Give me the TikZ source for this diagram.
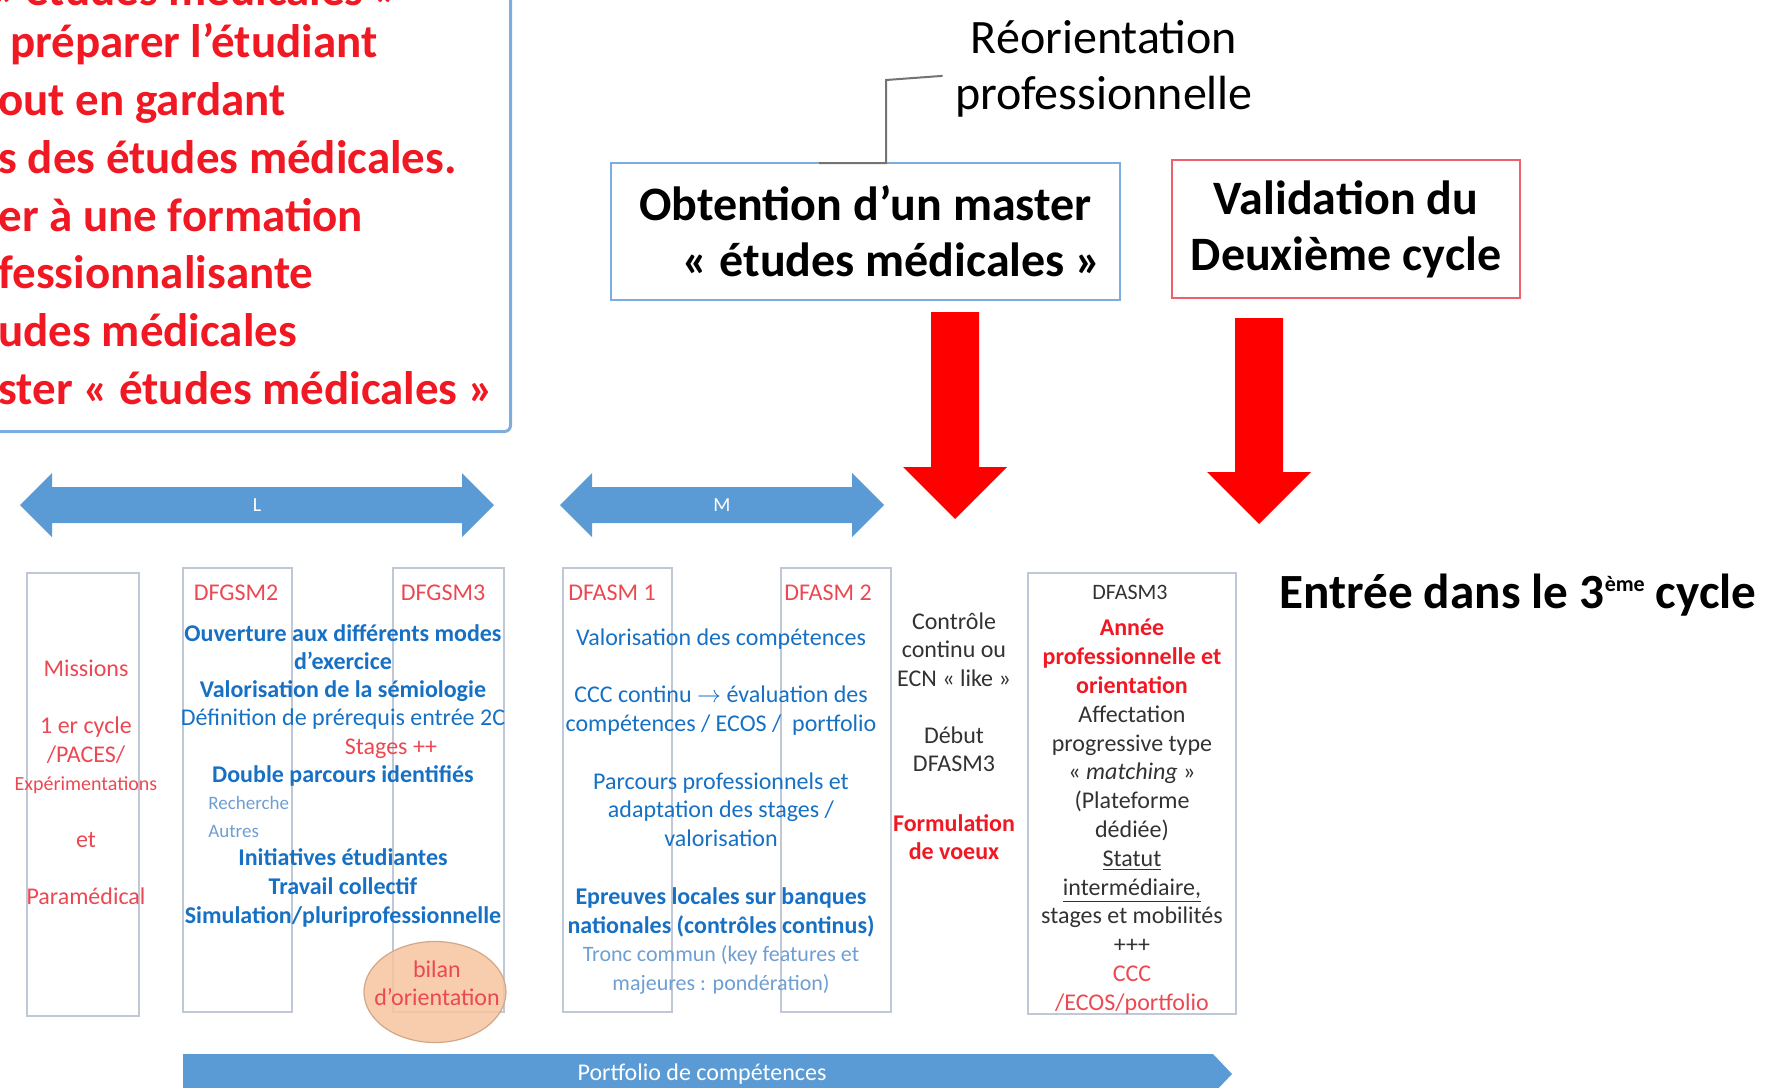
\documentclass[tikz,border=0pt]{standalone}
\usepackage{fontspec}
\setmainfont{Carlito}
\usetikzlibrary{shapes,arrows,positioning}

\definecolor{barblue}{RGB}{91,155,213}
\definecolor{txtblue}{RGB}{22,112,196}
\definecolor{paleblue}{RGB}{110,158,210}
\definecolor{txtred}{RGB}{240,24,34}
\definecolor{hdred}{RGB}{236,72,82}
\definecolor{edgeblue}{RGB}{125,172,222}
\definecolor{edgered}{RGB}{238,96,106}
\definecolor{colline}{RGB}{192,200,214}
\definecolor{peach}{RGB}{247,196,160}
\definecolor{darktxt}{RGB}{50,50,50}

\newcommand{\fsz}[2]{\fontsize{#1}{#2}\selectfont}

\begin{document}
\begin{tikzpicture}[x=0.5pt,y=-0.5pt]
  \tikzstyle{col} = [draw=colline,line width=1pt,rectangle,minimum height=222pt]
  \tikzstyle{bigtext} = [inner sep=0pt,font=\bfseries\fsz{24}{28}]
  \tikzstyle{coltext} = [inner sep=0pt,align=center,font=\fsz{12}{14.25}]
  \tikzstyle{colhead} = [inner sep=0pt,anchor=base,font=\fsz{12}{14},text=hdred]
  \tikzstyle{conn} = [draw=black!55,line width=1pt]
  \useasboundingbox (0,0) rectangle (1766,1087);

  \node (goal) [draw=edgeblue,line width=1.5pt,rounded corners=3pt,anchor=south east,
    minimum width=400pt,minimum height=300pt] at (512,433) {};
  \node (goalhead) [anchor=base east,inner sep=0pt,text=txtred,font=\bfseries\fsz{23.5}{29}]
    at (400,5) {« études médicales »};
  \node (goaltxt) [anchor=north west,align=left,inner sep=0pt,text=txtred,font=\bfseries\fsz{23.5}{28.9}]
    at (-2,23) {\hspace*{6pt}préparer l’étudiant\\out en gardant\\s des études médicales.\\
    er à une formation\\fessionnalisante\\udes médicales\\ster « études médicales »};

  \node (reo) [inner xsep=6pt,inner ysep=0pt,align=center,anchor=north,font=\fsz{24}{28}] at (1104,20)
    {Réorientation\\professionnelle};
  \node (master) [bigtext,draw=edgeblue,line width=1.2pt,minimum width=254.5pt,minimum height=68.5pt,
    align=right] at (865.5,231.5) {Obtention d’un master\\« études médicales »\hspace*{-5pt}};
  \node (valid) [bigtext,draw=edgered,line width=1.2pt,minimum width=174pt,minimum height=69pt,
    align=center] at (1346,229) {\raisebox{-1.5pt}{Validation du}\\\raisebox{-1.5pt}{Deuxième cycle}};
  \coordinate (knee) at (886,80);
  \coordinate (tick) at (819,163);
  \draw [conn] ([yshift=-3.5pt]reo.west) -- (knee) -- (knee |- tick) -- (tick);

  \fill [red] (931,312) -- (979,312) -- (979,467) -- (1007,467) -- (955,519) -- (903,467) -- (931,467) -- cycle;
  \fill [red] (1235,318) -- (1283,318) -- (1283,472) -- (1311,472) -- (1259,524) -- (1207,472) -- (1235,472) -- cycle;
  \node (third) [bigtext,font=\bfseries\fsz{24.6}{28},anchor=base west] at (1279,608)
    {Entrée dans le 3\raisebox{8.5pt}{\fsz{11}{11}ème} cycle};

  \fill [barblue] (20,505) -- (52,473) -- (52,487) -- (462,487) -- (462,473) -- (494,505)
    -- (462,537) -- (462,523) -- (52,523) -- (52,537) -- cycle;
  \fill [barblue] (560,505) -- (592,473) -- (592,487) -- (852,487) -- (852,473) -- (884,505)
    -- (852,537) -- (852,523) -- (592,523) -- (592,537) -- cycle;
  \node (lic) [text=white,font=\fsz{10}{12}] at (257,505) {L};
  \node (mas) [text=white,font=\fsz{10}{12}] at (722,505) {M};

  \node (c0) [col,minimum width=56pt,minimum height=221.5pt] at (83,794.5) {};
  \node (c1) [col,minimum width=54.5pt] at (237.5,790) {};
  \node (c2) [col,minimum width=55.5pt,right=49.5pt of c1] {};
  \node (c3) [col,minimum width=54.5pt,right=28.5pt of c2] {};
  \node (c4) [col,minimum width=55pt,right=53.5pt of c3] {};
  \node (c5) [col,minimum width=104pt,minimum height=220.5pt] at (1132,793.5) {};
  \node (bilan) [ellipse,fill=peach,fill opacity=0.85,draw=peach!85!black,line width=0.6pt,
    minimum width=71pt,minimum height=50.5pt] at (435,992) {};

  \node (mis) [coltext,anchor=north,text=hdred] at (86,660)
    {Missions\\[14.25pt]1 er cycle\\/PACES/\\{\fsz{10}{14.25}Expérimentations}\\[14.25pt]et\\[14.25pt]Paramédical};
  \node (h1) [colhead] at (236,600) {DFGSM2};
  \node (h2) [colhead] at (443,600) {DFGSM3};
  \node (h3) [colhead] at (612,600) {DFASM 1};
  \node (h4) [colhead] at (828,600) {DFASM 2};
  \node (h5) [colhead,text=darktxt,font=\fsz{11}{13}] at (1130,599) {DFASM3};

  \node (gsm) [coltext,anchor=north,text=txtblue,font=\fsz{12}{14.1}] at (343,624)
    {\textbf{Ouverture aux différents modes}\\\textbf{d’exercice}\\\textbf{Valorisation de la sémiologie}\\
     Définition de prérequis entrée 2C\\\hspace*{48pt}\textcolor{hdred}{Stages ++}\\\textbf{Double parcours identifiés}};
  \node (opt) [anchor=north west,inner sep=0pt,align=left,text=paleblue,font=\fsz{9.5}{14}] at (208,796)
    {Recherche\\Autres};
  \node (gsm2) [coltext,anchor=north,text=txtblue,font=\bfseries\fsz{12}{14.5}] at (343,848)
    {Initiatives étudiantes\\Travail collectif\\Simulation/pluriprofessionnelle};
  \node (bilantxt) [coltext,anchor=north,text=hdred] at (437,960) {bilan\\d’orientation};

  \node (asm) [coltext,anchor=north,text=txtblue,font=\fsz{12}{14.4}] at (721,628)
    {Valorisation des compétences\\[14.4pt]
     CCC continu $\rightarrow$ évaluation des\\compétences / ECOS /~ portfolio\\[14.4pt]
     Parcours professionnels et\\adaptation des stages /\\valorisation\\[14.4pt]
     \textbf{Epreuves locales sur banques}\\\textbf{nationales (contrôles continus)}\\
     \textcolor{paleblue}{\fsz{11}{14}Tronc commun (key features et}\\
     \textcolor{paleblue}{\fsz{11}{14}majeures : pondération)}};

  \node (ecn) [coltext,anchor=north,text=darktxt] at (954,612)
    {Contrôle\\continu ou\\ECN « like »\\[14.25pt]Début\\DFASM3\\[15.5pt]
     \textbf{\textcolor{txtred}{Formulation}}\\\textbf{\textcolor{txtred}{de voeux}}};
  \node (asm3) [coltext,anchor=north,text=darktxt,font=\fsz{12}{14.4}] at (1132,619)
    {\textbf{\textcolor{txtred}{Année}}\\\textbf{\textcolor{txtred}{professionnelle et}}\\
     \textbf{\textcolor{txtred}{orientation}}\\Affectation\\progressive type\\« \textit{matching} »\\
     (Plateforme\\dédiée)\\\underline{Statut}\\\underline{intermédiaire,}\\stages et mobilités\\+++\\
     \textcolor{hdred}{CCC}\\\textcolor{hdred}{/ECOS/portfolio}};

  \fill [barblue] (183,1054) -- (1213,1054) -- (1232,1074) -- (1213,1094) -- (183,1094) -- cycle;
  \node (port) [text=white,font=\fsz{12}{14}] at (702,1074) {Portfolio de compétences};
\end{tikzpicture}
\end{document}
